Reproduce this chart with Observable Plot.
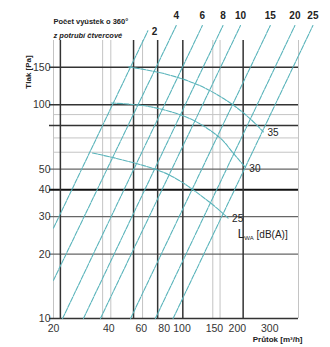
<!DOCTYPE html>
<html>
<head>
<meta charset="utf-8">
<script src="https://cdn.jsdelivr.net/npm/d3@7"></script>
<script src="https://cdn.jsdelivr.net/npm/@observablehq/plot@0.6"></script>
<style>
  html, body { margin: 0; padding: 0; background: #fff; }
  svg text { font-family: "Liberation Sans", Arial, sans-serif; }
</style>
</head>
<body>
<div id="chart"></div>
<script>
// ---- data ----
const xTicks = [20, 40, 60, 80, 100, 150, 200, 300];
const yTicks = [10, 20, 30, 40, 50, 100, 150];

const gridYDark = [10, 80, 100, 150];
const gridYThick = [40];
const gridYMed = [20, 30, 50];
const gridYLight = [60, 70, 90];
const gridXDark = [21.8, 54.5, 73.7, 101, 215];
const gridXLight = [20, 37, 41, 61, 147, 161, 430];

// number of outlets (diagonal lines)
const outletCounts = ["2", "4", "6", "8", "10", "15", "20", "25"];
const lineStartQ = [20, 20, 22.4, 29.1, 36, 52.5, 71.6, 89.4];
const lineStartP = [26.5, 15.1, 10, 10, 10, 10, 10, 10];
const lineEndQ = [65.2, 93, 129, 167, 208, 302, 411, 515];
const lineEndP = [222, 235, 235, 235, 235, 235, 235, 235];

// sound power curves
const dbLevels = ["35", "30", "25"];
const db35Q = [51.2, 81.2, 125.8, 183, 235, 277];
const db35P = [150.5, 139.5, 122.7, 102, 86, 74.7];
const db30Q = [41.3, 67.3, 111, 161, 188, 221];
const db30P = [102, 97.9, 86, 70, 60, 51];
const db25Q = [32.6, 81.2, 139, 178];
const db25P = [59.5, 47.9, 35.4, 29.5];

const titleLine1 = "Počet vyústek o 360°";
const titleLine2 = "z potrubí čtvercové";
const xLabel = "Průtok [m³/h]";
const yLabel = "Tlak [Pa]";

// ---- tables ----
const lines = outletCounts.flatMap((n, i) => [
  {n, q: lineStartQ[i], p: lineStartP[i]},
  {n, q: lineEndQ[i], p: lineEndP[i]}
]);
const lineTops = outletCounts.map((n, i) => ({n, q: lineEndQ[i], p: lineEndP[i]}));
const dbSeries = [[db35Q, db35P], [db30Q, db30P], [db25Q, db25P]];
const curves = dbSeries.flatMap(([qs, ps], k) => qs.map((q, j) => ({lvl: dbLevels[k], q, p: ps[j]})));
const curveEnds = dbSeries.map(([qs, ps], k) => ({lvl: dbLevels[k], q: qs[qs.length - 1], p: ps[ps.length - 1]}));

const teal = "#5ab4bb";
const dark = "#333";

const plot = Plot.plot({
  width: 330,
  height: 347,
  marginLeft: 53,
  marginRight: 32,
  marginTop: 40,
  marginBottom: 29,
  x: {type: "log", domain: [20, 430], axis: null},
  y: {type: "log", domain: [10, 200], axis: null},
  style: {background: "#fff", overflow: "visible", fontFamily: "Liberation Sans, Arial, sans-serif"},
  marks: [
    Plot.ruleY(gridYLight, {stroke: "#c4c4c4", strokeWidth: 1}),
    Plot.ruleX(gridXLight, {stroke: "#c4c4c4", strokeWidth: 1}),
    Plot.ruleY(gridYMed, {stroke: "#666", strokeWidth: 1.2, insetLeft: -4}),
    Plot.ruleY(gridYDark, {stroke: dark, strokeWidth: 1.5, insetLeft: -4}),
    Plot.ruleY(gridYThick, {stroke: "#111", strokeWidth: 2, insetLeft: -4}),
    Plot.ruleX(gridXDark, {stroke: dark, strokeWidth: 1.5}),
    Plot.line(lines, {x: "q", y: "p", z: "n", stroke: teal, strokeWidth: 1.1, strokeDasharray: "5,1.2"}),
    Plot.line(curves, {x: "q", y: "p", z: "lvl", stroke: teal, strokeWidth: 1.1, curve: "catmull-rom", strokeDasharray: "5,1.2"}),
    Plot.text(lineTops.filter(d => d.n !== "2"), {x: "q", y: "p", text: "n", dy: -10, fontSize: 10, fontWeight: "bold", fill: "#222"}),
    Plot.text(lineTops.filter(d => d.n === "2"), {x: "q", y: "p", text: "n", dx: 4, dy: 1, textAnchor: "start", fontSize: 10, fontWeight: "bold", fill: "#222"}),
    Plot.text(curveEnds, {x: "q", y: "p", text: "lvl", dx: 4, dy: 1, textAnchor: "start", fontSize: 10, fill: "#222"}),
    Plot.text(xTicks, {x: d => d, y: 10, text: d => String(d), dy: 10, fontSize: 10.5, fill: "#333"}),
    Plot.text(yTicks, {x: 20, y: d => d, text: d => String(d), dx: -3, textAnchor: "end", fontSize: 10.5, fill: "#333"}),
    Plot.text([titleLine1], {frameAnchor: "top-left", dy: -22, textAnchor: "start", fontSize: 7.5, fontWeight: "bold", fill: "#222"}),
    Plot.text([titleLine2], {frameAnchor: "top-left", dy: -8, textAnchor: "start", fontSize: 7.5, fontWeight: "bold", fontStyle: "italic", fill: "#222"}),
    Plot.text([xLabel], {frameAnchor: "bottom-right", dx: 4, dy: 23, textAnchor: "end", fontSize: 8, fontWeight: "bold", fill: "#222"})
  ]
});

document.getElementById("chart").appendChild(plot);

const svg = d3.select(plot);
const sx = plot.scale("x"), sy = plot.scale("y");

// Y axis title, rotated
svg.append("text")
  .attr("transform", "translate(29,72) rotate(-90)")
  .attr("text-anchor", "middle")
  .attr("dominant-baseline", "middle")
  .attr("font-size", 8)
  .attr("font-weight", "bold")
  .attr("fill", "#222")
  .text(yLabel);

// L_WA [dB(A)] label with subscript, positioned via plot scales
const lab = svg.append("text")
  .attr("x", sx.apply(202))
  .attr("y", sy.apply(25.6) + 7)
  .attr("text-anchor", "start")
  .attr("fill", "#222");
lab.append("tspan").attr("font-size", 12).text("L");
lab.append("tspan").attr("font-size", 6).attr("dy", 2).text("WA");
lab.append("tspan").attr("font-size", 10).attr("dy", -2).text(" [dB(A)]");
</script>
</body>
</html>
